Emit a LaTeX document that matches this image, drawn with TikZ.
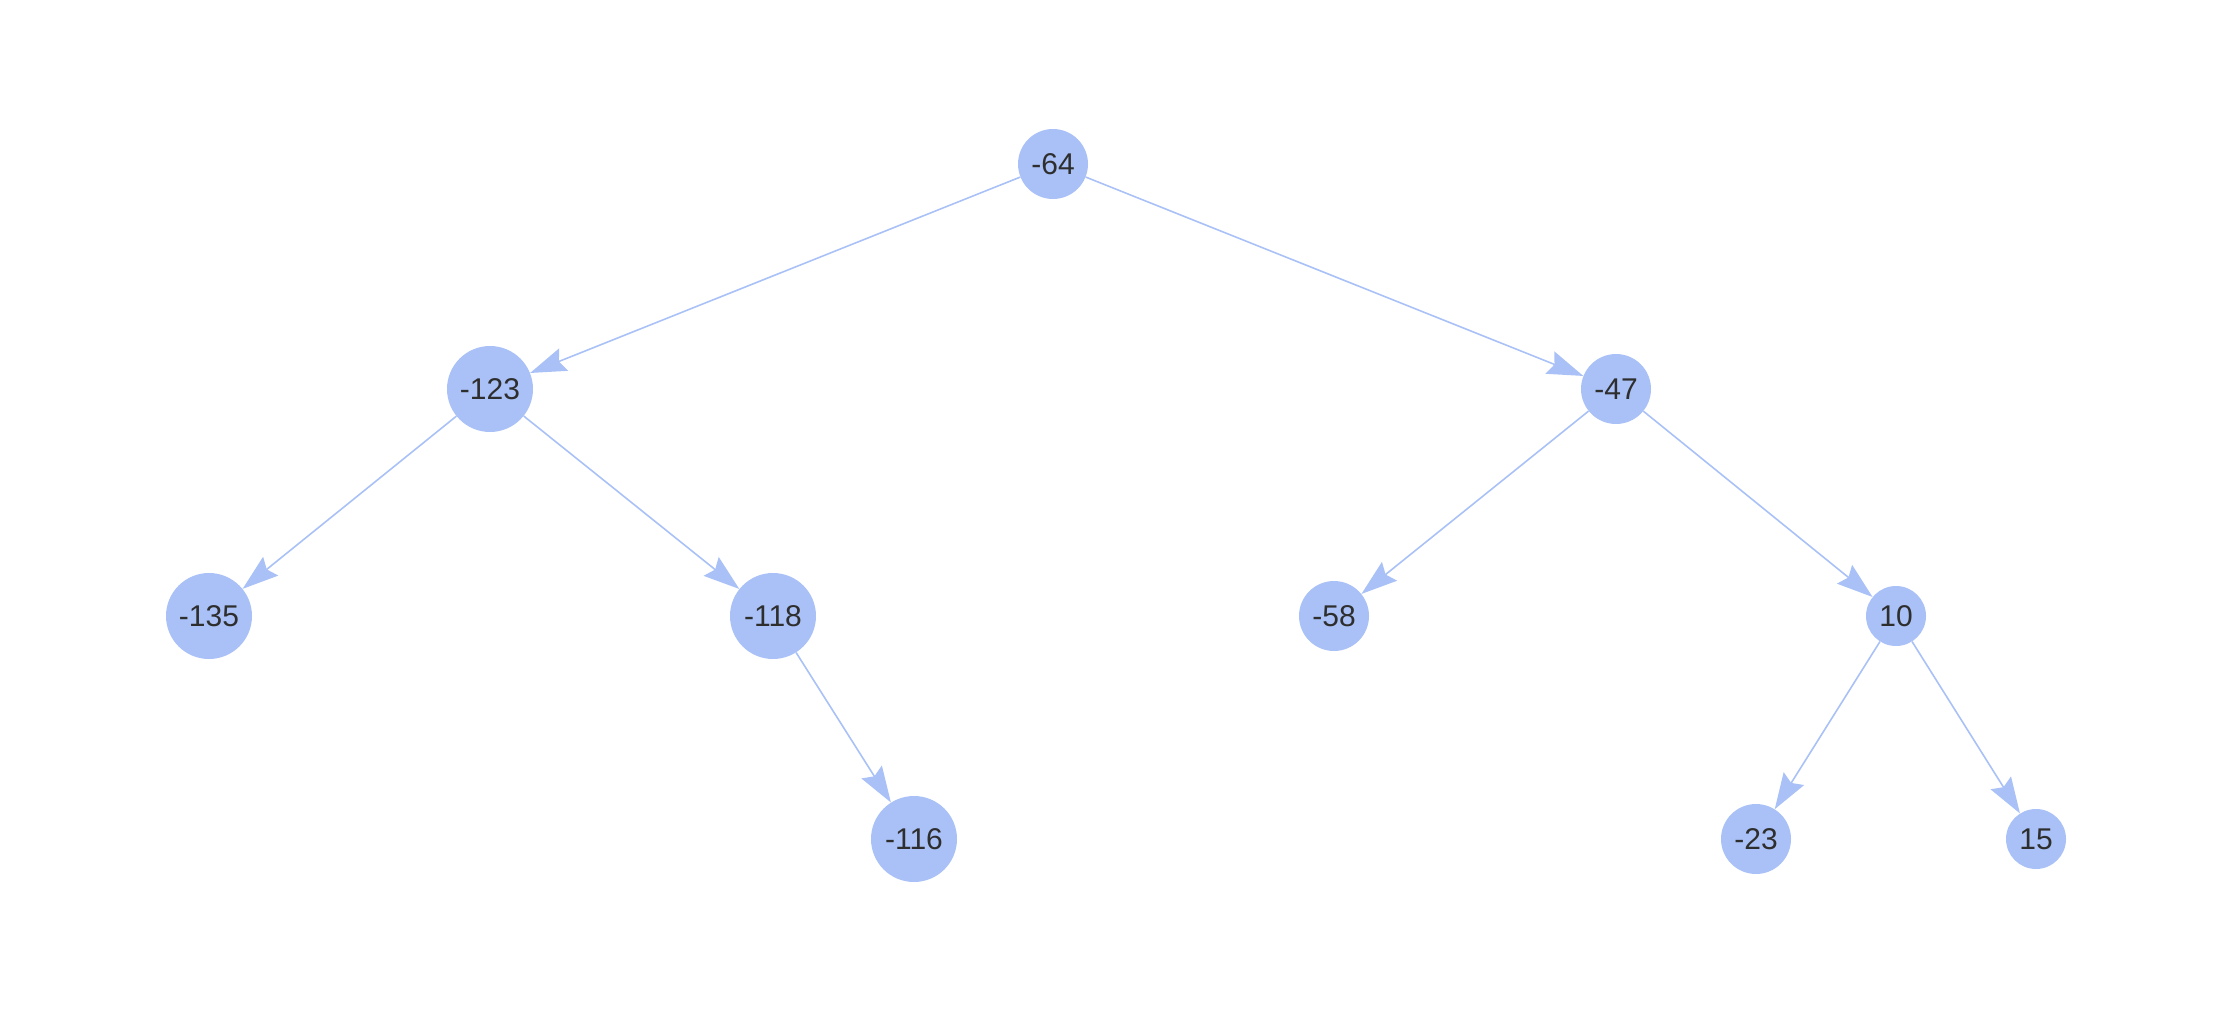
\documentclass[tikz,border=0pt]{standalone}
\usepackage{fontspec}
\setmainfont{Liberation Sans}
\usetikzlibrary{arrows.meta}
\definecolor{nodeblue}{HTML}{A9C1F6}
\definecolor{txt}{HTML}{2E2E2E}
\tikzset{
  tnode/.style={circle, fill=nodeblue, inner sep=0pt, text=txt, font=\fontsize{30}{30}\selectfont},
  big/.style={minimum size=86pt},
  mid/.style={minimum size=70pt},
  small/.style={minimum size=60pt},
  edge/.style={draw=nodeblue, line width=1.6pt, -{Stealth[length=36pt, width=24pt, inset=5pt]}, shorten >=0pt}
}
\begin{document}
\begin{tikzpicture}[x=1pt, y=-1pt]
\useasboundingbox (0,0) rectangle (2240,1017);
\node[tnode, mid] (n64) at (1053,164) {-64};
\node[tnode, big] (n123) at (490,389) {-123};
\node[tnode, mid] (n47) at (1616,389) {-47};
\node[tnode, big] (n135) at (209,616) {-135};
\node[tnode, big] (n118) at (773,616) {-118};
\node[tnode, mid] (n58) at (1334,616) {-58};
\node[tnode, small] (n10) at (1896,616) {10};
\node[tnode, big] (n116) at (914,839) {-116};
\node[tnode, mid] (n23) at (1756,839) {-23};
\node[tnode, small] (n15) at (2036,839) {15};
\draw[edge] (n64) -- (n123);
\draw[edge] (n64) -- (n47);
\draw[edge] (n123) -- (n135);
\draw[edge] (n123) -- (n118);
\draw[edge] (n118) -- (n116);
\draw[edge] (n47) -- (n58);
\draw[edge] (n47) -- (n10);
\draw[edge] (n10) -- (n23);
\draw[edge] (n10) -- (n15);
\end{tikzpicture}
\end{document}
